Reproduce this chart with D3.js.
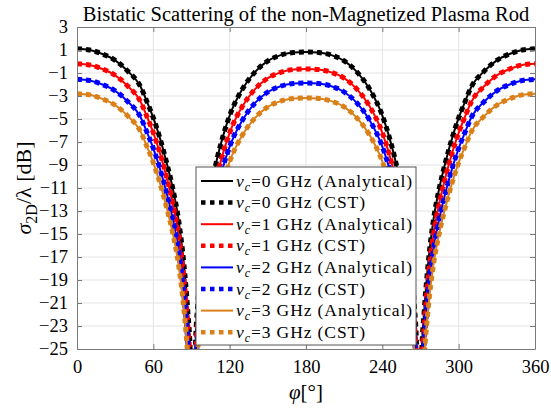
<!DOCTYPE html>
<html>
<head>
<meta charset="utf-8">
<script src="https://cdn.jsdelivr.net/npm/d3@7"></script>
<style>
  body { margin: 0; background: #fff; }
  text { font-family: "Liberation Serif", "Times New Roman", serif; fill: #000; }
</style>
</head>
<body>
<div id="chart"></div>
<script>
// angle samples (deg)
var phi = [0,10,20,30,40,50,55,60,65,70,75,80,84,87,89,90,91,92,93,95,98,100,105,110,115,120,130,140,150,160,170,180,
           190,200,210,220,230,240,245,250,255,260,262,265,267,268,269,270,271,273,276,280,285,290,295,300,305,310,320,330,340,350,360];

// sigma_2D/lambda [dB], one list per collision frequency
var nu0 = [1.10,1.00,0.65,0.10,-0.85,-2.20,-3.50,-4.90,-6.60,-8.60,-10.90,-13.90,-17.60,-21.60,-25.20,-29.00,-36.00,-29.50,-25.00,-21.00,-17.00,-15.00,-11.20,-8.50,-6.40,-4.70,-2.40,-0.90,0.05,0.55,0.78,0.83,
           0.78,0.55,0.05,-0.90,-2.40,-4.70,-6.40,-8.50,-11.20,-15.00,-17.00,-21.00,-25.00,-29.50,-36.00,-29.00,-25.20,-21.60,-17.60,-13.90,-10.90,-8.60,-6.60,-4.90,-3.50,-2.20,-0.85,0.10,0.65,1.00,1.10];
var nu1 = [-0.20,-0.30,-0.65,-1.20,-2.15,-3.50,-4.80,-6.20,-7.90,-9.90,-12.20,-15.20,-18.90,-22.90,-26.50,-30.50,-37.50,-31.00,-26.50,-22.50,-18.50,-16.50,-12.70,-10.00,-7.90,-6.20,-3.90,-2.40,-1.45,-0.95,-0.70,-0.65,
           -0.70,-0.95,-1.45,-2.40,-3.90,-6.20,-7.90,-10.00,-12.70,-16.50,-18.50,-22.50,-26.50,-31.00,-37.50,-30.50,-26.50,-22.90,-18.90,-15.20,-12.20,-9.90,-7.90,-6.20,-4.80,-3.50,-2.15,-1.20,-0.65,-0.30,-0.20];
var nu2 = [-1.55,-1.65,-2.00,-2.55,-3.50,-4.85,-6.15,-7.55,-9.25,-11.25,-13.55,-16.55,-20.25,-24.25,-27.85,-31.70,-38.70,-32.20,-27.70,-23.70,-19.70,-17.70,-13.90,-11.20,-9.10,-7.40,-5.10,-3.60,-2.65,-2.15,-1.92,-1.87,
           -1.92,-2.15,-2.65,-3.60,-5.10,-7.40,-9.10,-11.20,-13.90,-17.70,-19.70,-23.70,-27.70,-32.20,-38.70,-31.70,-27.85,-24.25,-20.25,-16.55,-13.55,-11.25,-9.25,-7.55,-6.15,-4.85,-3.50,-2.55,-2.00,-1.65,-1.55];
var nu3 = [-2.80,-2.90,-3.25,-3.80,-4.75,-6.10,-7.40,-8.80,-10.50,-12.50,-14.80,-17.80,-21.50,-25.50,-29.10,-33.00,-40.00,-33.50,-29.00,-25.00,-21.00,-19.00,-15.20,-12.50,-10.40,-8.70,-6.40,-4.90,-3.95,-3.45,-3.22,-3.17,
           -3.22,-3.45,-3.95,-4.90,-6.40,-8.70,-10.40,-12.50,-15.20,-19.00,-21.00,-25.00,-29.00,-33.50,-40.00,-33.00,-29.10,-25.50,-21.50,-17.80,-14.80,-12.50,-10.50,-8.80,-7.40,-6.10,-4.75,-3.80,-3.25,-2.90,-2.80];

var nuLabels = ["0", "1", "2", "3"];
var xTicks = [0, 60, 120, 180, 240, 300, 360];
var yTicks = [3, 1, -1, -3, -5, -7, -9, -11, -13, -15, -17, -19, -21, -23, -25];

var width = 551, height = 408;
var plot = {left: 77, right: 535, top: 27, bottom: 349};
var colors = ["#000000", "#ff0000", "#0000ff", "#d98019"];
var series = [nu0, nu1, nu2, nu3];

var svg = d3.select("#chart").append("svg")
    .attr("width", width)
    .attr("height", height);

var x = d3.scaleLinear().domain([0, 360]).range([plot.left, plot.right]);
var y = d3.scaleLinear().domain([-25, 3]).range([plot.bottom, plot.top]);

// grid
svg.append("g").selectAll("line").data(xTicks.slice(1, -1)).enter().append("line")
    .attr("x1", function (d) { return x(d); }).attr("x2", function (d) { return x(d); })
    .attr("y1", plot.top).attr("y2", plot.bottom)
    .attr("stroke", "#e3e3e3").attr("stroke-width", 1);
svg.append("g").selectAll("line").data(yTicks.slice(1, -1)).enter().append("line")
    .attr("y1", function (d) { return y(d); }).attr("y2", function (d) { return y(d); })
    .attr("x1", plot.left).attr("x2", plot.right)
    .attr("stroke", "#e3e3e3").attr("stroke-width", 1);

// curves
svg.append("clipPath").attr("id", "clip").append("rect")
    .attr("x", plot.left).attr("y", plot.top)
    .attr("width", plot.right - plot.left).attr("height", plot.bottom - plot.top);

var line = d3.line()
    .x(function (d, i) { return x(phi[i]); })
    .y(function (d) { return y(d); })
    .curve(d3.curveMonotoneX);

var gCurves = svg.append("g").attr("clip-path", "url(#clip)");
series.forEach(function (s, k) {
    gCurves.append("path").datum(s)
        .attr("d", line)
        .attr("fill", "none")
        .attr("stroke", colors[k])
        .attr("stroke-width", 2);
    gCurves.append("path").datum(s)
        .attr("d", line)
        .attr("fill", "none")
        .attr("stroke", colors[k])
        .attr("stroke-width", 5)
        .attr("stroke-dasharray", "5,4");
});

// axes (ticks inward, box on)
function styleAxis(g) {
    g.select(".domain").attr("stroke", "#7a7a7a");
    g.selectAll(".tick line").attr("stroke", "#7a7a7a");
    g.selectAll(".tick text")
        .style("font-family", "'Liberation Serif', 'Times New Roman', serif")
        .style("font-size", "18.5px")
        .attr("fill", "#000");
}
var gx = svg.append("g").attr("transform", "translate(0," + plot.bottom + ")")
    .call(d3.axisBottom(x).tickValues(xTicks).tickSize(-5).tickPadding(11).tickSizeOuter(0));
styleAxis(gx);
var gxt = svg.append("g").attr("transform", "translate(0," + plot.top + ")")
    .call(d3.axisTop(x).tickValues(xTicks).tickSize(-5).tickFormat("").tickSizeOuter(0));
styleAxis(gxt);
var gy = svg.append("g").attr("transform", "translate(" + plot.left + ",0)")
    .call(d3.axisLeft(y).tickValues(yTicks).tickSize(-5).tickPadding(9).tickSizeOuter(0));
styleAxis(gy);
var gyr = svg.append("g").attr("transform", "translate(" + plot.right + ",0)")
    .call(d3.axisRight(y).tickValues(yTicks).tickSize(-5).tickFormat("").tickSizeOuter(0));
styleAxis(gyr);

// title and axis labels
svg.append("text")
    .attr("x", (plot.left + plot.right) / 2).attr("y", 21)
    .attr("text-anchor", "middle")
    .style("font-size", "20.5px")
    .text("Bistatic Scattering of the non-Magnetized Plasma Rod");

var xl = svg.append("text")
    .attr("x", (plot.left + plot.right) / 2).attr("y", 399)
    .attr("text-anchor", "middle")
    .style("font-size", "21px");
xl.append("tspan").style("font-style", "italic").text("φ");
xl.append("tspan").text("[°]");

var yl = svg.append("text")
    .attr("transform", "translate(31," + ((plot.top + plot.bottom) / 2) + ") rotate(-90)")
    .attr("text-anchor", "middle")
    .style("font-size", "22px");
yl.append("tspan").style("font-style", "italic").text("σ");
yl.append("tspan").attr("dy", 6).style("font-size", "16px").text("2D");
yl.append("tspan").attr("dy", -6).text("/λ [dB]");

// legend
var leg = {x: 196, y: 167, w: 220, h: 178, row: 21.6};
var gl = svg.append("g");
gl.append("rect")
    .attr("x", leg.x).attr("y", leg.y).attr("width", leg.w).attr("height", leg.h)
    .attr("fill", "#fff").attr("stroke", "#555").attr("stroke-width", 1);

var entries = [];
nuLabels.forEach(function (n, k) {
    entries.push({nu: n, kind: "Analytical", color: colors[k], dashed: false});
    entries.push({nu: n, kind: "CST", color: colors[k], dashed: true});
});
entries.forEach(function (e, i) {
    var cy = leg.y + 14 + i * leg.row;
    gl.append("line")
        .attr("x1", leg.x + 5).attr("x2", leg.x + 37)
        .attr("y1", cy).attr("y2", cy)
        .attr("stroke", e.color)
        .attr("stroke-width", e.dashed ? 4.5 : 2)
        .attr("stroke-dasharray", e.dashed ? "4.5,4.5" : null);
    var t = gl.append("text")
        .attr("x", leg.x + 40).attr("y", cy + 5.5)
        .style("font-size", "17.5px")
        .style("letter-spacing", "0.9px");
    t.append("tspan").style("font-style", "italic").text("ν");
    t.append("tspan").attr("dy", 4).style("font-style", "italic").style("font-size", "12px").text("c");
    t.append("tspan").attr("dy", -4).text("=" + e.nu + " GHz (" + e.kind + ")");
});
</script>
</body>
</html>
